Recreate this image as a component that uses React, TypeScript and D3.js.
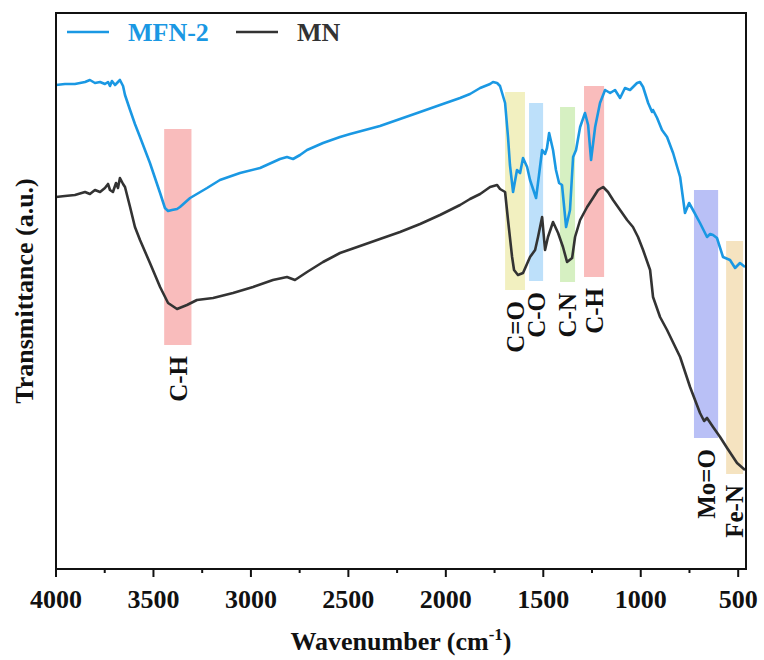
import React from 'react';
import * as d3 from 'd3';

// FTIR spectra, wavenumber (cm-1) vs transmittance (a.u.)
const mfnWave = [4000, 3954, 3903, 3851, 3826, 3800, 3774, 3749, 3733, 3723, 3713, 3697, 3687, 3672, 3656, 3646, 3620, 3595, 3569, 3518, 3466, 3441, 3425, 3405, 3379, 3364, 3312, 3225, 3159, 3056, 2953, 2851, 2815, 2784, 2748, 2712, 2630, 2543, 2491, 2338, 2235, 2132, 2030, 1927, 1876, 1824, 1773, 1758, 1737, 1722, 1696, 1681, 1671, 1655, 1635, 1619, 1604, 1583, 1568, 1537, 1522, 1506, 1491, 1481, 1470, 1450, 1435, 1419, 1404, 1383, 1363, 1347, 1332, 1311, 1286, 1270, 1255, 1234, 1209, 1183, 1157, 1132, 1106, 1081, 1055, 1019, 1004, 988, 962, 942, 937, 916, 891, 865, 834, 798, 773, 752, 732, 696, 660, 644, 629, 609, 578, 542, 516, 491, 465];
const mfnT = [48.4, 48.5, 48.5, 48.7, 48.9, 48.6, 48.7, 48.5, 48.7, 48.3, 48.8, 48.4, 48.6, 48.9, 48.3, 47.4, 45.9, 44.5, 43.2, 40.6, 37.6, 36.1, 35.8, 35.9, 36.0, 36.2, 37.1, 38.1, 38.9, 39.6, 40.1, 41.0, 41.2, 41.0, 41.4, 41.9, 42.6, 43.2, 43.5, 44.3, 45.0, 45.7, 46.4, 47.1, 47.5, 48.1, 48.5, 48.7, 48.6, 48.3, 46.6, 43.2, 40.4, 37.7, 39.9, 39.6, 41.1, 40.2, 38.9, 37.1, 39.4, 41.9, 41.5, 42.1, 43.6, 41.9, 39.9, 38.6, 38.4, 34.2, 35.9, 41.2, 41.9, 44.2, 45.6, 44.4, 40.9, 44.2, 46.6, 47.9, 47.6, 47.9, 47.1, 48.1, 47.9, 48.6, 48.7, 48.2, 46.6, 45.7, 45.9, 45.1, 43.9, 43.2, 41.6, 39.2, 35.6, 36.6, 35.9, 34.6, 33.2, 33.5, 33.4, 33.1, 31.2, 30.9, 30.1, 30.6, 30.2];

const mnWave = [4000, 3954, 3903, 3851, 3826, 3800, 3774, 3749, 3733, 3723, 3708, 3692, 3682, 3672, 3656, 3646, 3620, 3595, 3569, 3518, 3466, 3425, 3379, 3328, 3277, 3194, 3092, 2989, 2887, 2815, 2774, 2712, 2630, 2543, 2440, 2338, 2235, 2132, 2030, 1927, 1876, 1824, 1773, 1737, 1722, 1696, 1681, 1660, 1650, 1630, 1604, 1568, 1542, 1527, 1506, 1491, 1476, 1450, 1424, 1399, 1378, 1352, 1337, 1311, 1275, 1245, 1219, 1193, 1168, 1142, 1106, 1070, 1040, 1014, 988, 952, 937, 901, 865, 798, 747, 696, 675, 660, 629, 593, 557, 506, 465];
const mnT = [37.2, 37.3, 37.4, 37.7, 37.5, 37.9, 37.7, 38.1, 38.5, 37.9, 37.7, 38.6, 38.1, 39.1, 38.5, 38.2, 36.2, 34.2, 32.9, 30.6, 28.2, 26.6, 26.0, 26.4, 26.9, 27.1, 27.6, 28.2, 28.9, 29.2, 28.9, 29.7, 30.7, 31.6, 32.3, 33.0, 33.7, 34.5, 35.4, 36.4, 37.0, 37.5, 38.2, 38.4, 38.0, 37.7, 34.9, 31.2, 29.9, 29.4, 29.6, 31.2, 31.9, 33.2, 35.2, 31.9, 33.2, 34.7, 33.6, 32.2, 30.7, 31.1, 33.2, 34.9, 36.2, 37.1, 37.9, 38.2, 37.7, 36.9, 35.9, 34.9, 34.2, 33.2, 31.9, 29.9, 27.2, 25.2, 23.9, 21.2, 18.2, 15.6, 14.8, 15.1, 14.2, 13.2, 12.1, 10.6, 9.9];

// assignment bands: [from, to] wavenumber, [top, bottom] transmittance
const bandLabels = ['C-H', 'C=O', 'C-O', 'C-N', 'C-H', 'Mo=O', 'Fe-N'];
const bandFrom = [3445, 1696, 1573, 1414, 1291, 727, 562];
const bandTo = [3305, 1594, 1501, 1337, 1188, 603, 475];
const bandTop = [44.0, 47.7, 46.6, 46.2, 48.3, 37.9, 32.8];
const bandBottom = [22.4, 27.9, 28.8, 28.7, 29.2, 13.1, 9.5];
const bandColors = ['#f9bcbc', '#f2f0c0', '#bde0fa', '#d6f0c2', '#f9bcbc', '#b9c0f6', '#f5e3c0'];

const majorTicks = [4000, 3500, 3000, 2500, 2000, 1500, 1000, 500];
const minorTicks = [3750, 3250, 2750, 2250, 1750, 1250, 750];

const series = [
  { name: 'MFN-2', wave: mfnWave, t: mfnT, color: '#1a98e3' },
  { name: 'MN', wave: mnWave, t: mnT, color: '#333333' },
];

const W = 764;
const H = 660;
const margin = { left: 56, right: 18, top: 13, bottom: 91 };
const font = "'Liberation Serif', 'Times New Roman', serif";

export default function App() {
  const x = d3.scaleLinear().domain([4000, 460]).range([margin.left, W - margin.right]);
  const y = d3.scaleLinear().domain([0, 55.6]).range([H - margin.bottom, margin.top]);
  const x0 = margin.left;
  const x1 = W - margin.right;
  const y0 = H - margin.bottom;
  const y1 = margin.top;

  const line = d3.line<[number, number]>()
    .x(d => x(d[0]))
    .y(d => y(d[1]));

  return (
    <svg width={W} height={H} style={{ position: 'absolute', left: 0, top: 0, background: '#fff' }}
      fontFamily={font} fontWeight="bold">
      {/* bands */}
      {bandLabels.map((lab, i) => (
        <rect key={'b' + i}
          x={x(bandFrom[i])} width={x(bandTo[i]) - x(bandFrom[i])}
          y={y(bandTop[i])} height={y(bandBottom[i]) - y(bandTop[i])}
          fill={bandColors[i]} />
      ))}
      {bandLabels.map((lab, i) => {
        const cx = (x(bandFrom[i]) + x(bandTo[i])) / 2;
        const ty = y(bandBottom[i]) + 11;
        return (
          <text key={'l' + i} transform={`translate(${cx},${ty}) rotate(-90)`}
            textAnchor="end" dy="0.35em" fontSize={25} fill="#111">{lab}</text>
        );
      })}

      {/* spectra */}
      {series.map(s => (
        <path key={s.name} d={line(s.wave.map((w, i) => [w, s.t[i]]) as [number, number][]) || ''}
          fill="none" stroke={s.color} strokeWidth={2.6} strokeLinejoin="round" />
      ))}

      {/* frame */}
      <rect x={x0} y={y1} width={x1 - x0} height={y0 - y1} fill="none" stroke="#111" strokeWidth={2} />

      {/* x axis ticks */}
      {majorTicks.map(t => (
        <g key={'t' + t}>
          <line x1={x(t)} x2={x(t)} y1={y0} y2={y0 + 8} stroke="#111" strokeWidth={2} />
          <text x={x(t)} y={y0 + 39} textAnchor="middle" fontSize={26} fill="#111">{t}</text>
        </g>
      ))}
      {minorTicks.map(t => (
        <line key={'m' + t} x1={x(t)} x2={x(t)} y1={y0} y2={y0 + 4} stroke="#111" strokeWidth={2} />
      ))}

      {/* axis titles */}
      <text x={(x0 + x1) / 2} y={650} textAnchor="middle" fontSize={26} fill="#111">
        Wavenumber (cm<tspan dy={-10} fontSize={17}>-1</tspan><tspan dy={10}>)</tspan>
      </text>
      <text transform={`translate(33,${(y0 + y1) / 2}) rotate(-90)`} textAnchor="middle"
        fontSize={26} fill="#111">Transmittance (a.u.)</text>

      {/* legend */}
      {series.map((s, i) => {
        const lx = [67, 236][i];
        return (
          <g key={'lg' + s.name}>
            <line x1={lx} x2={lx + 42} y1={32} y2={32} stroke={s.color} strokeWidth={2.6} />
            <text x={lx + 61} y={41} fontSize={26} fill={s.color}>{s.name}</text>
          </g>
        );
      })}
    </svg>
  );
}
